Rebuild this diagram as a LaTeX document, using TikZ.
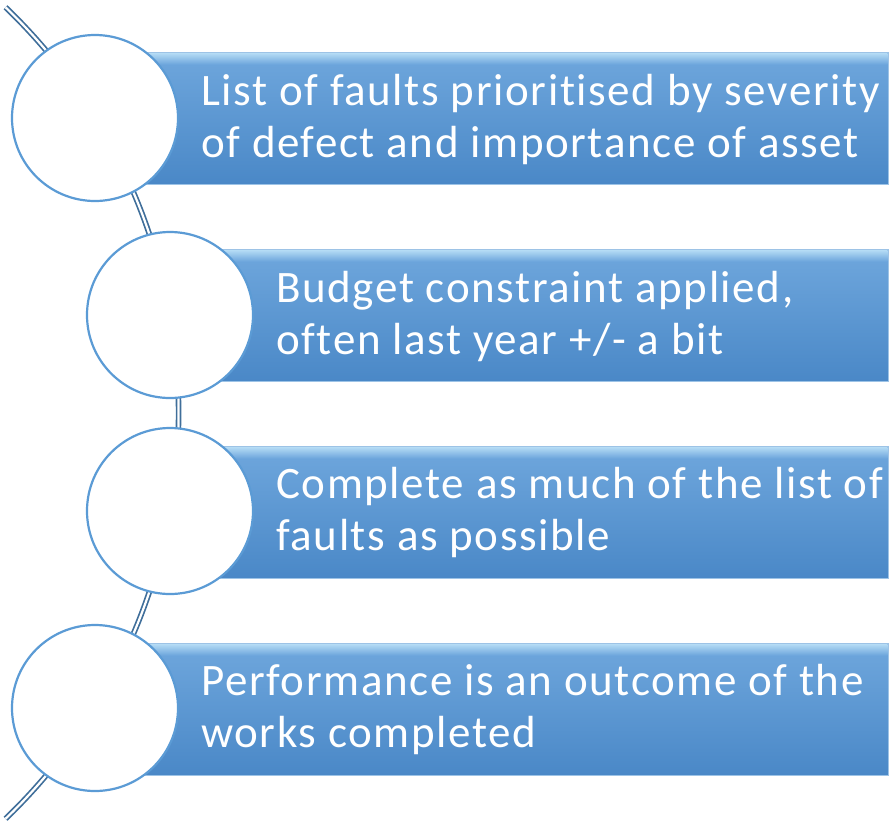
\documentclass[tikz,border=0pt]{standalone}
\usepackage{fontspec}
\setmainfont{Carlito}
\newfontfamily\barfont[LetterSpace=3.6,Ligatures=NoCommon]{Carlito}
\usetikzlibrary{calc}
\definecolor{barblue}{HTML}{5B9BD5}
\definecolor{bardark}{HTML}{4A88C7}
\definecolor{barmid}{HTML}{6FA7DD}
\definecolor{barlight}{HTML}{B5DCF5}
\definecolor{arcblue}{HTML}{3F6E9A}

\begin{document}
\begin{tikzpicture}[x=1pt,y=-1pt,
  my circle/.style={
    draw=barblue,
    fill=white,
    line width=2.2pt,
  },
  my bar/.style={
    top color=barmid,
    bottom color=bardark,
    draw=barblue!60!white,
    line width=0.8pt,
  },
  my shine/.style={
    top color=barlight,
    bottom color=barmid,
  },
  my text/.style={
    anchor=west,
    align=left,
    inner sep=0pt,
    text=white,
    font=\barfont\fontsize{45}{52}\selectfont,
  }]
  \useasboundingbox (0,0) rectangle (889,820);
  % the arc behind the circles
  \coordinate (O) at (-383.6,413);
  \coordinate (T) at ($(O)+(-46.2:562.2)$);
  \draw[arcblue, line width=1.7pt, double=white, double distance=2.2pt]
    (T) arc[start angle=-46.2, end angle=46.2, radius=562.2];
  % bars
  \shade[my bar] (95,52) rectangle (888,184);
  \shade[my shine] (95,53) rectangle (887.5,64);
  \shade[my bar] (170,249) rectangle (888,381);
  \shade[my shine] (170,250) rectangle (887.5,261);
  \shade[my bar] (170,446) rectangle (888,578);
  \shade[my shine] (170,447) rectangle (887.5,458);
  \shade[my bar] (95,643) rectangle (888,775);
  \shade[my shine] (95,644) rectangle (887.5,655);
  % circles
  \node[my circle, circle, minimum size=166pt] (c1) at (95,118) {};
  \node[my circle, circle, minimum size=166pt] (c2) at (170,315) {};
  \node[my circle, circle, minimum size=166pt] (c3) at (170,511) {};
  \node[my circle, circle, minimum size=166pt] (c4) at (95,708) {};
  % texts
  \node[my text] (t1) at (201,119) {List of faults prioritised by severity\\of defect and importance of asset};
  \node[my text] (t2) at (276,316) {Budget constraint applied,\\often last year +/- a bit};
  \node[my text] (t3) at (276,512) {Complete as much of the list of\\faults as possible};
  \node[my text] (t4) at (201,709) {Performance is an outcome of the\\works completed};
\end{tikzpicture}
\end{document}
